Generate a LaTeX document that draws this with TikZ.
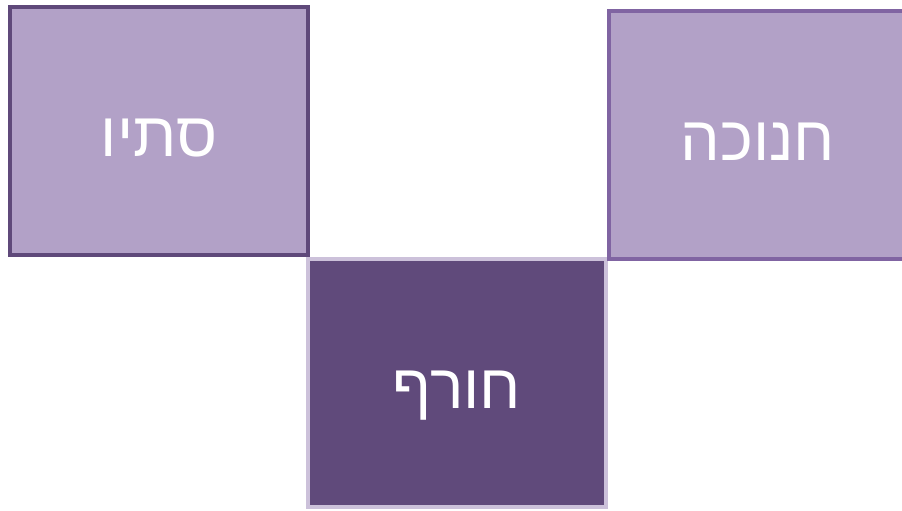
\documentclass[tikz,border=0pt]{standalone}
\usepackage{fontspec}
\usepackage{xcolor}
\usetikzlibrary{positioning}
\TeXXeTstate=1
\newfontfamily\hebfont[Script=Hebrew]{Liberation Sans}
\definecolor{lavender}{HTML}{B2A1C7}
\definecolor{plum}{HTML}{604A7B}
\definecolor{plumedge}{HTML}{5F497A}
\definecolor{violetedge}{HTML}{8064A2}
\definecolor{lilacedge}{HTML}{CCC1DA}

\begin{document}
\begin{tikzpicture}[node distance=0pt,
    season/.style={rectangle, line width=3pt, minimum width=223.5pt, minimum height=186pt,
        inner sep=0pt, outer sep=0pt, text=white, text height=42pt, text depth=4pt,
        font=\hebfont\fontsize{47}{56}\selectfont}]
        \useasboundingbox (0,0) rectangle (676.5pt,-382.5pt);
        \node (stav) [season, draw=plumedge, fill=lavender] at (119.25pt,-98.25pt) {\beginR סתיו\endR};
        \node (horef) [season, draw=lilacedge, fill=plum, below right=3pt and 0pt of stav] {\beginR חורף\endR};
        \node (hanuka) [season, draw=violetedge, fill=lavender, above right=0pt and 2pt of horef] {\beginR חנוכה\endR};
    \end{tikzpicture}
\end{document}
